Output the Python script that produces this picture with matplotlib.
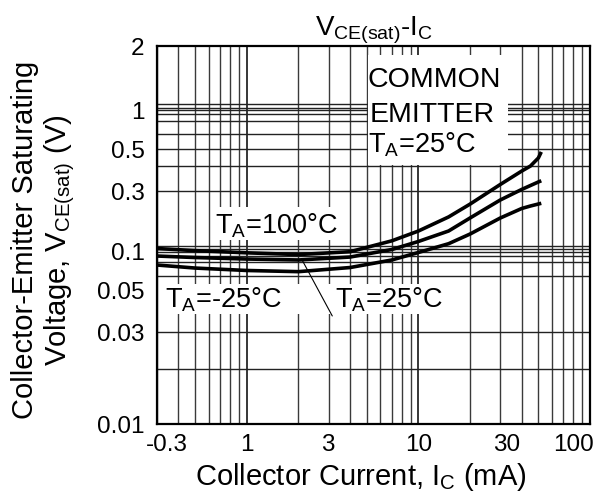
import numpy as np
import matplotlib
matplotlib.use('Agg')
import matplotlib.pyplot as plt
from matplotlib import ticker
from matplotlib import transforms as mtransforms
from matplotlib.patches import Rectangle

plt.rcParams['font.family'] = ['Liberation Sans', 'DejaVu Sans']
plt.rcParams['mathtext.fontset'] = 'custom'
plt.rcParams['mathtext.rm'] = 'Liberation Sans'
plt.rcParams['mathtext.it'] = 'Liberation Sans:italic'
plt.rcParams['mathtext.bf'] = 'Liberation Sans:bold'

# ---------------- data ----------------
ic_ma = [0.3, 0.5, 1, 2, 4, 7, 10, 15, 20, 30, 40, 45, 50, 52]
vce_ta100 = [0.106, 0.102, 0.098, 0.095, 0.100, 0.122, 0.146, 0.189, 0.239,
             0.327, 0.384, 0.408, 0.449, 0.483]
vce_ta25 = [0.0925, 0.090, 0.0876, 0.0861, 0.0908, 0.1041, 0.1206, 0.1461,
            0.1854, 0.2577, 0.3082, 0.3231, 0.337, 0.342]
vce_tam25 = [0.0786, 0.0744, 0.0712, 0.0697, 0.0751, 0.0861, 0.0986, 0.1158,
             0.1382, 0.1853, 0.2206, 0.2309, 0.2394, 0.2426]

x_ticks = [0.3, 1, 3, 10, 30, 100]
x_tick_labels = ["-0.3", "1", "3", "10", "30", "100"]
y_ticks = [0.01, 0.03, 0.05, 0.1, 0.3, 0.5, 1, 2]
y_tick_labels = ["0.01", "0.03", "0.05", "0.1", "0.3", "0.5", "1", "2"]
y_grid = [1.07, 1.03, 1.0, 0.94, 0.83, 0.65, 0.5, 0.408, 0.303,
          0.111, 0.1045, 0.0995, 0.093, 0.0834, 0.0644, 0.0302, 0.0194]
x_major_grid = [1, 10]

# ---------------- non-uniform (datasheet) log scale for y ----------------
_y_log = np.log10(np.array(y_ticks, dtype=float))
_y_frac = np.array([0.0, 0.2421, 0.3545, 0.4558, 0.6146, 0.7275, 0.8294, 1.0])
_s0 = (_y_frac[1] - _y_frac[0]) / (_y_log[1] - _y_log[0])
_s1 = (_y_frac[-1] - _y_frac[-2]) / (_y_log[-1] - _y_log[-2])


def _fwd(v):
    lv = np.log10(np.clip(np.asarray(v, dtype=float), 1e-12, None))
    out = np.interp(lv, _y_log, _y_frac)
    out = np.where(lv < _y_log[0], _y_frac[0] + (lv - _y_log[0]) * _s0, out)
    out = np.where(lv > _y_log[-1], _y_frac[-1] + (lv - _y_log[-1]) * _s1, out)
    return out


def _inv(f):
    f = np.asarray(f, dtype=float)
    lv = np.interp(f, _y_frac, _y_log)
    lv = np.where(f < _y_frac[0], _y_log[0] + (f - _y_frac[0]) / _s0, lv)
    lv = np.where(f > _y_frac[-1], _y_log[-1] + (f - _y_frac[-1]) / _s1, lv)
    return 10 ** lv


fig = plt.figure(figsize=(6.02, 4.92), dpi=100)
ax = fig.add_axes([0.2608, 0.1382, 0.7193, 0.7683])
ax.set_xscale('log')
ax.set_yscale('function', functions=(_fwd, _inv))
ax.set_xlim(0.3, 100)
ax.set_ylim(0.01, 2)

# ticks
ax.set_xticks(x_ticks, x_tick_labels)
ax.xaxis.set_minor_locator(ticker.LogLocator(base=10, subs=np.arange(2, 10)))
ax.xaxis.set_minor_formatter(ticker.NullFormatter())
ax.xaxis.remove_overlapping_locs = False
ax.set_yticks(y_ticks, y_tick_labels)
ax.yaxis.set_minor_locator(ticker.FixedLocator(y_grid))
ax.yaxis.set_minor_formatter(ticker.NullFormatter())
ax.yaxis.remove_overlapping_locs = False
ax.tick_params(which='both', length=0, labelsize=17.5, colors='black')
ax.tick_params(axis='x', pad=7)
ax.tick_params(axis='y', pad=9)

# grid
ax.xaxis.grid(True, which='minor', color='#3a3a3a', lw=1.0)
ax.yaxis.grid(True, which='minor', color='#222222', lw=1.0)
for gx in x_major_grid:
    ax.axvline(gx, color='black', lw=1.1, zorder=1.5)

# shift the outer x tick labels like in the reference
offsets_px = [10, 0, -1, 0, 6, -17]
for lbl, dx in zip(ax.get_xticklabels(), offsets_px):
    lbl.set_transform(lbl.get_transform() +
                      mtransforms.ScaledTranslation(dx / 100, 0, fig.dpi_scale_trans))

for sp in ax.spines.values():
    sp.set_linewidth(1.6)
    sp.set_color('black')
    sp.set_zorder(6)

# white label boxes (cover the grid)
box_kw = dict(transform=ax.transAxes, facecolor='white', edgecolor='none', zorder=2)
ax.add_patch(Rectangle((0.4873, 0.6852), 0.3233, 0.291, **box_kw))
ax.add_patch(Rectangle((0.1247, 0.4868), 0.3072, 0.0873, **box_kw))
ax.add_patch(Rectangle((0.0116, 0.291), 0.6559, 0.0794, **box_kw))

# curves
for ys in (vce_ta100, vce_ta25, vce_tam25):
    ax.plot(ic_ma, ys, color='black', lw=2.6, zorder=3,
            solid_capstyle='butt', solid_joinstyle='round')

# leader line to the 25 degC curve
ax.annotate('', xy=(2.1, 0.0862), xytext=(3.15, 0.0366),
            arrowprops=dict(arrowstyle='-', color='black', lw=0.8,
                            shrinkA=0, shrinkB=0), zorder=4)

tkw = dict(transform=ax.transAxes, va='baseline', ha='left', zorder=5, color='black')
ax.text(0.134, 0.505, r'T$_\mathrm{A}$=100°C', fontsize=19.5, **tkw)
ax.text(0.0185, 0.307, r'T$_\mathrm{A}$=-25°C', fontsize=19.5, **tkw)
ax.text(0.411, 0.307, r'T$_\mathrm{A}$=25°C', fontsize=19.5, **tkw)
ax.text(0.487, 0.892, 'COMMON', fontsize=20.5, **tkw)
ax.text(0.491, 0.800, 'EMITTER', fontsize=20.5, **tkw)
ax.text(0.487, 0.717, r'T$_\mathrm{A}$=25°C', fontsize=19.5, **tkw)

ax.set_title(r'V$_\mathrm{CE(sat)}$-I$_\mathrm{C}$', fontsize=20, pad=7)
ax.set_xlabel(r'Collector Current, I$_\mathrm{C}$ (mA)', fontsize=21)
ax.xaxis.set_label_coords(0.471, -0.098)
ax.set_ylabel('Collector-Emitter Saturating\n' + r'Voltage, V$_\mathrm{CE(sat)}$ (V)',
              fontsize=21, linespacing=1.15)
ax.yaxis.set_label_coords(-0.184, 0.487)

fig.savefig('out.png', dpi=100)
